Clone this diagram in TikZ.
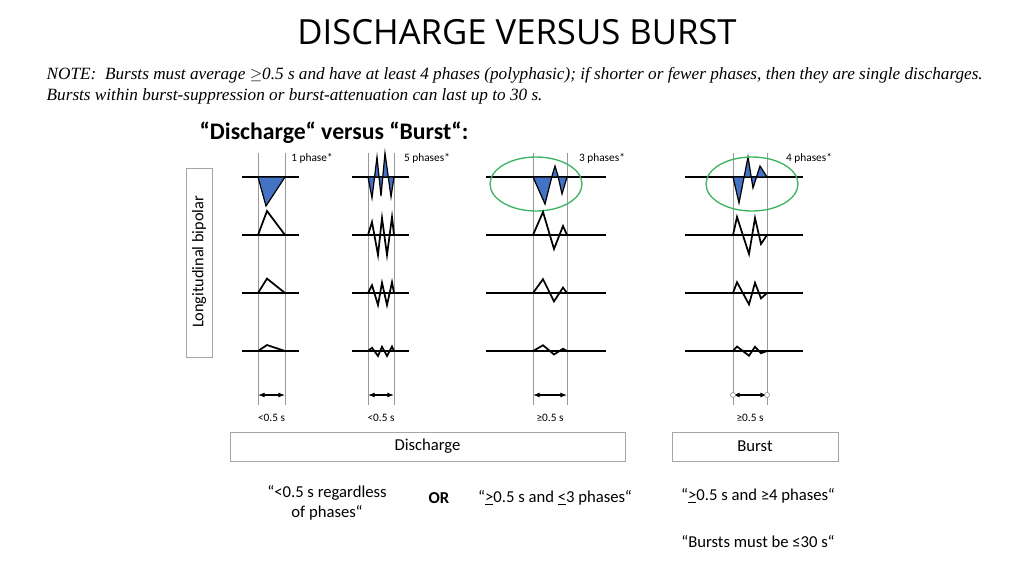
\documentclass[tikz,border=0pt]{standalone}
\usepackage{fontspec}
\setmainfont{Open Sans}
\newfontfamily\notefont{Liberation Serif}
\newfontfamily\calfont{Carlito}
\usetikzlibrary{arrows.meta}
\definecolor{waveblue}{RGB}{68,114,196}
\definecolor{ovalgreen}{RGB}{60,180,100}
\tikzset{
  grid/.style={draw=gray!80, line width=0.6pt},
  wave/.style={draw=black, line width=1.3pt, line join=miter},
  spike/.style={draw=black, fill=waveblue, line width=0.9pt},
  oval/.style={draw=ovalgreen, line width=1pt},
  tag/.style={font=\calfont\fontsize{8.5}{10}\selectfont},
  label/.style={font=\calfont\fontsize{12.5}{15}\selectfont, align=center},
  frame/.style={draw=gray!70, line width=0.6pt}
}
\begin{document}
\begin{tikzpicture}[x=0.75pt, y=-0.75pt]
\useasboundingbox (0,0) rectangle (1024,575);
% headings
\node (title) at (517,32) {\fontsize{26}{30}\selectfont DISCHARGE VERSUS BURST};
\node[align=left, anchor=west, font=\notefont\itshape\fontsize{12.9}{15.5}\selectfont] (note) at (42,86)
  {NOTE:\ \ Bursts must average $\geq$0.5 s and have at least 4 phases (polyphasic); if shorter or fewer phases, then they are single discharges.\\
  Bursts within burst-suppression or burst-attenuation can last up to 30 s.};
\node (sub) at (334,133) {\calfont\bfseries\fontsize{17.8}{21}\selectfont “Discharge“ versus “Burst“:};
% montage label
\draw[frame] (186,168) rectangle (212,357);
\node[rotate=90] (mont) at (199,262) {\calfont\fontsize{12.2}{14}\selectfont Longitudinal bipolar};
% time windows
\foreach \a/\b in {258/285, 368/394, 533/567, 733/767}
  \draw[grid] (\a,153) -- (\a,405) (\b,153) -- (\b,405);
% flat traces
\foreach \y in {177,235,293,351} {
  \draw[wave] (242,\y) -- (299,\y) (352,\y) -- (409,\y)
              (486,\y) -- (606,\y) (685,\y) -- (803,\y);
}
% top row, shaded phases
\draw[spike] (258,177) -- (266,206) -- (285,177) -- cycle;
\draw[spike] (368,177) -- (372,198) -- (377,157) -- (381,196) -- (385,153) -- (391,197) -- (394,177) -- cycle;
\draw[spike] (533,177) -- (545,204) -- (552,176) -- (555,166) -- (558,176) -- (562,194) -- (567,177) -- cycle;
\draw[spike] (733,177) -- (739,203) -- (748,157) -- (753,188) -- (760,166) -- (767,177) -- cycle;
\draw[oval] (536,184) ellipse [x radius=46, y radius=27];
\draw[oval] (752,184) ellipse [x radius=46, y radius=27];
% lower rows, same pattern scaled down
\foreach \y/\s in {235/1, 293/0.6, 351/0.25} {
  \begin{scope}[shift={(0,\y)}, yscale=\s]
    \draw[wave] (258,0) -- (267,-24) -- (285,0);
    \draw[wave] (368,0) -- (372,-13) -- (378,20) -- (382,-17) -- (387,20) -- (392,-18) -- (394,0);
    \draw[wave] (533,0) -- (543,-23) -- (554,14) -- (563,-9) -- (567,0);
    \draw[wave] (733,0) -- (737,-18) -- (749,19) -- (755,-17) -- (761,9) -- (767,0);
  \end{scope}
}
% phase counts
\node[tag] (ph1) at (312,158) {1 phase*};
\node[tag] (ph5) at (427,158) {5 phases*};
\node[tag] (ph3) at (602,158) {3 phases*};
\node[tag] (ph4) at (809,158) {4 phases*};
% durations
\foreach \a/\b/\t [count=\i] in {258/285/{<0.5 s}, 368/394/{<0.5 s}, 533/567/{≥0.5 s}, 733/767/{≥0.5 s}} {
  \coordinate (l\i) at (\a,395);
  \coordinate (r\i) at (\b,395);
  \draw[{Latex[length=5pt]}-{Latex[length=5pt]}, line width=0.8pt] (l\i) -- (r\i);
  \node[tag] (d\i) at ({(\a+\b)/2},418) {\t};
}
\fill[white, draw=gray] (l4) circle (2.5) (r4) circle (2.5);
% categories
\node[frame, minimum width=395*0.75pt, minimum height=29*0.75pt, label] (dis) at (427.5,446.5) {Discharge};
\node[frame, minimum width=166*0.75pt, minimum height=29*0.75pt, label] (bur) at (755,446.5) {Burst};
\node[label] (crit1) at (327,503) {“<0.5 s regardless\\of phases“};
\node[label, font=\calfont\bfseries\fontsize{12.5}{15}\selectfont] (or) at (439,498) {OR};
\node[label] (crit2) at (555,498) {“\underline{>}0.5 s and \underline{<}3 phases“};
\node[label] (crit3) at (758,496) {“\underline{>}0.5 s and ≥4 phases“};
\node[label] (crit4) at (758,542) {“Bursts must be ≤30 s“};
\end{tikzpicture}
\end{document}
